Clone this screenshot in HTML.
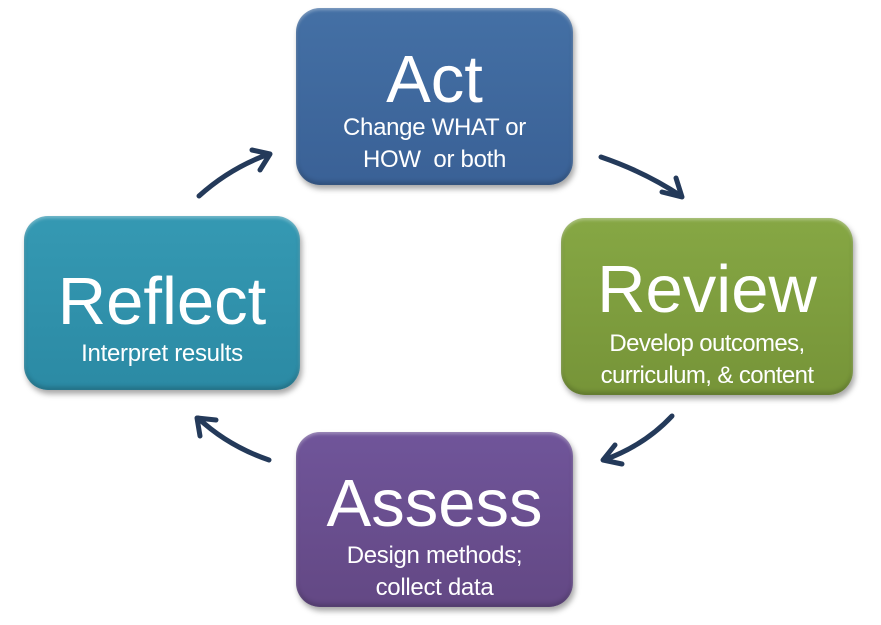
<!DOCTYPE html>
<html><head><style>
body{margin:0;width:881px;height:625px;background:#fff;position:relative;overflow:hidden;font-family:"Liberation Sans",sans-serif}
.b{position:absolute;border-radius:24px;color:#fff;text-align:center;box-shadow:2px 4px 6px rgba(0,0,0,.35),inset 0 2px 3px rgba(255,255,255,.35),inset 0 -3px 5px rgba(0,0,0,.2)}
.t{font-size:67px;line-height:64px}
.s{font-size:24px;line-height:32px;letter-spacing:-0.3px}
</style></head><body>
<div class="b" style="left:296px;top:8px;width:277px;height:177px;background:linear-gradient(#4470a5,#3a6196)"><div class="t" style="margin-top:40px">Act</div><div class="s" style="margin-top:0px">Change WHAT or<br>HOW&nbsp; or both</div></div>
<div class="b" style="left:561px;top:218px;width:292px;height:177px;background:linear-gradient(#86a744,#769438)"><div class="t" style="margin-top:40px">Review</div><div class="s" style="margin-top:6px;letter-spacing:-0.6px">Develop outcomes,<br>curriculum, &amp; content</div></div>
<div class="b" style="left:24px;top:216px;width:276px;height:174px;background:linear-gradient(#3599b3,#2b8aa4)"><div class="t" style="margin-top:54px">Reflect</div><div class="s" style="margin-top:4px">Interpret results</div></div>
<div class="b" style="left:296px;top:432px;width:277px;height:175px;background:linear-gradient(#70559a,#634884)"><div class="t" style="margin-top:40px">Assess</div><div class="s" style="margin-top:4px">Design methods;<br>collect data</div></div>
<svg width="881" height="625" style="position:absolute;left:0;top:0" fill="none" stroke="#243a5a" stroke-width="5" stroke-linecap="round" stroke-linejoin="round">
<path d="M601 157 Q645 172 681 196"/><path d="M662 192 L682 197 L676 178"/>
<path d="M672 416 Q645 445 604 460"/><path d="M615 445 L603 460 L622 464"/>
<path d="M269 460 Q228 446 198 418"/><path d="M200 436 L197 418 L216 420"/>
<path d="M199 196 Q230 168 269 154"/><path d="M252 150 L270 154 L260 170"/>
</svg>
</body></html>
